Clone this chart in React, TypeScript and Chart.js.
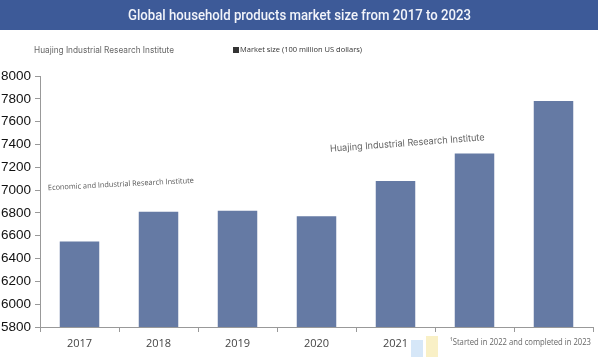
import React, { useEffect, useRef } from "react";
import { Chart, registerables } from "chart.js";

Chart.register(...registerables);

const title = "Global household products market size from 2017 to 2023";
const categories = ["2017", "2018", "2019", "2020", "2021", "2022", "2023"];
const seriesLabel = "Market size (100 million US dollars)";
const marketSize = [6550, 6810, 6820, 6770, 7080, 7320, 7780];
const sourceTop = "Huajing Industrial Research Institute";
const watermarkLeft = "Economic and Industrial Research Institute";
const watermarkRight = "Huajing Industrial Research Institute";
const footnote = "¹Started in 2022 and completed in 2023";

const W = 598;
const H = 357;

function fitText(ctx: any, text: string, x: number, y: number, maxW: number) {
  const w = ctx.measureText(text).width;
  if (w > maxW) {
    ctx.save();
    ctx.translate(x, y);
    ctx.scale(maxW / w, 1);
    ctx.fillText(text, 0, 0);
    ctx.restore();
  } else {
    ctx.fillText(text, x, y);
  }
}

const decorPlugin = {
  id: "decor",
  beforeDraw(chart: any) {
    const ctx = chart.ctx;
    ctx.save();
    ctx.fillStyle = "#ffffff";
    ctx.fillRect(0, 0, W, H);
    ctx.fillStyle = "#3d5a98";
    ctx.fillRect(0, 0, W, 30);
    ctx.fillStyle = "#f2f4fa";
    ctx.font = "500 14px Roboto, 'Open Sans', sans-serif";
    ctx.textAlign = "left";
    ctx.textBaseline = "middle";
    fitText(ctx, title, 128, 16, 343);

    ctx.fillStyle = "#666";
    ctx.font = "9px Inter, 'Open Sans', sans-serif";
    fitText(ctx, sourceTop, 34, 50, 140);

    ctx.fillStyle = "#333";
    ctx.fillRect(233, 47, 6, 6);
    ctx.font = "8px 'Open Sans', sans-serif";
    fitText(ctx, chart.data.datasets[0].label, 240, 50, 122);

    ctx.fillStyle = "#555";
    ctx.font = "7.5px 'Open Sans', sans-serif";
    ctx.save();
    ctx.translate(48, 188);
    ctx.rotate(-0.05);
    fitText(ctx, watermarkLeft, 0, 0, 146);
    ctx.restore();

    ctx.fillStyle = "#666";
    ctx.font = "9.5px Inter, 'Open Sans', sans-serif";
    ctx.save();
    ctx.translate(330, 149);
    ctx.rotate(-0.075);
    fitText(ctx, watermarkRight, 0, 0, 155);
    ctx.restore();
    ctx.restore();
  },
  afterDraw(chart: any) {
    const ctx = chart.ctx;
    ctx.save();
    ctx.fillStyle = "#ffffff";
    ctx.fillRect(439, 333, W - 439, H - 333);
    ctx.fillStyle = "#d6e7f8";
    ctx.fillRect(411, 340, 12, 17);
    ctx.fillStyle = "#f9f0c6";
    ctx.fillRect(426, 336, 12, 21);
    ctx.fillStyle = "#666";
    ctx.font = "8.5px 'Open Sans', sans-serif";
    ctx.textAlign = "left";
    ctx.textBaseline = "middle";
    fitText(ctx, footnote, 450, 343, 141);
    ctx.restore();
  },
};

export default function App() {
  const ref = useRef<HTMLCanvasElement | null>(null);
  useEffect(() => {
    if (!ref.current) return;
    const chart = new Chart(ref.current, {
      type: "bar",
      data: {
        labels: categories,
        datasets: [
          {
            label: seriesLabel,
            data: marketSize,
            backgroundColor: "#657aa4",
            categoryPercentage: 1,
            barPercentage: 0.5,
          },
        ],
      },
      options: {
        animation: false,
        responsive: false,
        maintainAspectRatio: false,
        layout: { padding: { top: 76, right: 5, left: 0, bottom: 0 } },
        plugins: {
          legend: { display: false },
          title: { display: false },
          tooltip: { enabled: false },
        },
        scales: {
          x: {
            grid: {
              display: true,
              drawOnChartArea: false,
              drawTicks: true,
              tickLength: 5,
              color: "#999",
              offset: true,
            },
            border: { color: "#999" },
            ticks: {
              color: "#444",
              font: { family: "'Open Sans', sans-serif", size: 11 },
              padding: 5,
            },
            afterFit: (s: any) => {
              s.height = 30;
            },
          },
          y: {
            min: 5800,
            max: 8000,
            grid: {
              drawOnChartArea: false,
              drawTicks: true,
              tickLength: 5,
              color: "#999",
            },
            border: { color: "#999" },
            ticks: {
              stepSize: 200,
              color: "#111",
              font: { family: "'Liberation Sans', Arial, sans-serif", size: 13.5 },
              padding: 4,
              callback: (v: any) => String(v),
            },
            afterFit: (s: any) => {
              s.width = 40;
            },
          },
        },
      },
      plugins: [decorPlugin],
    });
    return () => chart.destroy();
  }, []);
  return (
    <div style={{ position: "fixed", left: 0, top: 0, width: W, height: H }}>
      <canvas ref={ref} width={W} height={H} style={{ width: W, height: H }} />
    </div>
  );
}
